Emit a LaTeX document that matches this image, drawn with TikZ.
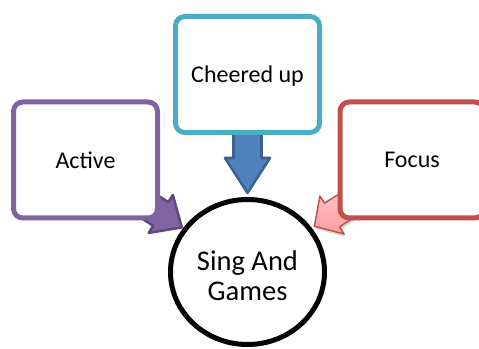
\documentclass[tikz,border=0pt]{standalone}
\usepackage{fontspec}
\setmainfont{Carlito}
\usetikzlibrary{shapes.geometric,shadows,backgrounds}
\definecolor{cheerline}{HTML}{4BACC6}
\definecolor{activeline}{HTML}{8064A2}
\definecolor{focusline}{HTML}{C0504D}
\definecolor{downfill}{HTML}{4F81BD}
\definecolor{downline}{HTML}{3A6190}
\definecolor{activearrowline}{HTML}{5E4A7D}
\definecolor{pinktop}{HTML}{FFD2D2}
\definecolor{pinkbottom}{HTML}{FF9C9C}
% #1 style, #2 tip, #3 angle, #4 head length
\newcommand{\blockarrow}[4]{\draw[#1, shift={(#2)}, rotate=#3] (0,0) -- (-#4,22.5) -- (-#4,14) -- (-75,14) -- (-75,-14) -- (-#4,-14) -- (-#4,-22.5) -- cycle;}
\begin{document}
\begin{tikzpicture}[x=0.75pt, y=-0.75pt]
\tikzset{box/.style={draw, fill=white, line width=3.75pt, rounded corners=7pt, minimum width=108pt, minimum height=87pt, inner sep=0pt, font=\fontsize{18}{22}\selectfont},
hub/.style={draw, ellipse, fill=white, line width=3.75pt, minimum width=115.5pt, minimum height=108.75pt, inner sep=0pt, align=center, font=\fontsize{21.4}{22.5}\selectfont}}
\useasboundingbox (0,0) rectangle (479,349);
\node [box, draw=cheerline] (cheer) at (247.5,74.5) {\rule{0pt}{15pt}Cheered up};
\node [box, draw=activeline] (active) at (85.5,160) {Active};
\node [box, draw=focusline] (focus) at (412,160) {Focus};
\node [hub] (sing) at (247.5,272) {\rule{0pt}{21pt}Sing And\\Games};
\begin{scope}[on background layer] % block arrows behind the boxes
\blockarrow{fill=downfill, draw=downline, line width=1.9pt, line join=round}{[yshift=3pt]sing.north}{-90}{35}
\blockarrow{fill=activeline, draw=activearrowline, line width=1.9pt, line join=round}{[shift={(-1,-1)}]sing.146}{-32.5}{25}
\blockarrow{top color=pinktop, bottom color=pinkbottom, draw=focusline, line width=1.1pt, line join=round, drop shadow={shadow xshift=1pt, shadow yshift=-2pt, opacity=0.3}}{[shift={(3,-1)}]sing.35}{212.5}{21}
\end{scope}
\end{tikzpicture}
\end{document}
